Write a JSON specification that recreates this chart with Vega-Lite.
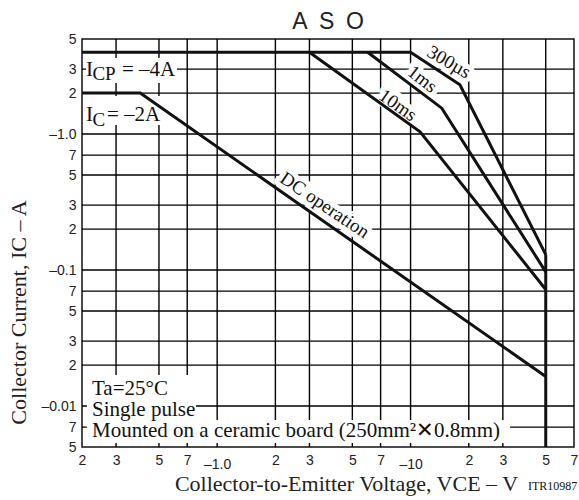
{
  "$schema": "https://vega.github.io/schema/vega-lite/v6.json",
  "width": 492,
  "height": 408,
  "autosize": {"type": "none"},
  "padding": {"left": 82, "top": 39, "right": 5, "bottom": 53},
  "background": "white",
  "config": {
    "view": {"stroke": "#111", "strokeWidth": 1.5},
    "axis": {"labelFont": "Liberation Sans", "labelFontSize": 14, "labelColor": "#222", "grid": false, "ticks": false, "domain": false, "labelOverlap": false, "labelFlush": false, "titleFont": "Liberation Serif", "titleFontWeight": "normal", "titleColor": "#222", "titleFontSize": 22}
  },
  "title": {"text": "A\u2002S\u2002O", "font": "Liberation Sans", "fontSize": 23, "fontWeight": "normal", "color": "#222", "offset": -2, "anchor": "middle"},
  "encoding": {
    "x": {
      "field": "x", "type": "quantitative",
      "scale": {"type": "log", "domain": [0.2, 70], "nice": false},
      "axis": {
        "values": [0.2, 0.3, 0.5, 0.7, 1, 2, 3, 5, 7, 10, 20, 30, 50, 70],
        "labelExpr": "datum.value==1 ? '–1.0' : datum.value==10 ? '–10' : datum.value<1 ? format(round(datum.value*10),'d') : datum.value<10 ? format(datum.value,'d') : format(round(datum.value/10),'d')",
        "labelPadding": {"condition": {"test": "datum.value==1 || datum.value==10", "value": 10}, "value": 6},
        "title": "Collector-to-Emitter Voltage, VCE – V",
        "titleX": 264, "titleY": 43, "titleBaseline": "alphabetic", "titleAlign": "center"
      }
    },
    "y": {
      "field": "y", "type": "quantitative",
      "scale": {"type": "log", "domain": [0.005, 5], "nice": false},
      "axis": {
        "values": [5, 3, 2, 1, 0.7, 0.5, 0.3, 0.2, 0.1, 0.07, 0.05, 0.03, 0.02, 0.01, 0.007, 0.005],
        "labelExpr": "datum.value==1 ? '–1.0' : datum.value==0.1 ? '–0.1' : datum.value==0.01 ? '–0.01' : format(round(datum.value/pow(10,floor(log(datum.value)/LN10))),'d')",
        "labelPadding": 6,
        "title": "Collector Current, IC – A",
        "titleX": -57, "titleY": 273, "titleBaseline": "alphabetic", "titleAlign": "center", "titleAngle": -90
      }
    }
  },
  "layer": [
    {
      "data": {"values": [
        {"g": "v0.3", "x": 0.3, "y": 0.005}, {"g": "v0.3", "x": 0.3, "y": 5},
        {"g": "v0.5", "x": 0.5, "y": 0.005}, {"g": "v0.5", "x": 0.5, "y": 5},
        {"g": "v0.7", "x": 0.7, "y": 0.005}, {"g": "v0.7", "x": 0.7, "y": 5},
        {"g": "v1", "x": 1, "y": 0.005}, {"g": "v1", "x": 1, "y": 5},
        {"g": "v2", "x": 2, "y": 0.005}, {"g": "v2", "x": 2, "y": 5},
        {"g": "v3", "x": 3, "y": 0.005}, {"g": "v3", "x": 3, "y": 5},
        {"g": "v5", "x": 5, "y": 0.005}, {"g": "v5", "x": 5, "y": 5},
        {"g": "v7", "x": 7, "y": 0.005}, {"g": "v7", "x": 7, "y": 5},
        {"g": "v10", "x": 10, "y": 0.005}, {"g": "v10", "x": 10, "y": 5},
        {"g": "v20", "x": 20, "y": 0.005}, {"g": "v20", "x": 20, "y": 5},
        {"g": "v30", "x": 30, "y": 0.005}, {"g": "v30", "x": 30, "y": 5},
        {"g": "v50", "x": 50, "y": 0.005}, {"g": "v50", "x": 50, "y": 5},
        {"g": "h3", "x": 0.2, "y": 3}, {"g": "h3", "x": 70, "y": 3},
        {"g": "h2", "x": 0.2, "y": 2}, {"g": "h2", "x": 70, "y": 2},
        {"g": "h1", "x": 0.2, "y": 1}, {"g": "h1", "x": 70, "y": 1},
        {"g": "h0.7", "x": 0.2, "y": 0.7}, {"g": "h0.7", "x": 70, "y": 0.7},
        {"g": "h0.5", "x": 0.2, "y": 0.5}, {"g": "h0.5", "x": 70, "y": 0.5},
        {"g": "h0.3", "x": 0.2, "y": 0.3}, {"g": "h0.3", "x": 70, "y": 0.3},
        {"g": "h0.2", "x": 0.2, "y": 0.2}, {"g": "h0.2", "x": 70, "y": 0.2},
        {"g": "h0.1", "x": 0.2, "y": 0.1}, {"g": "h0.1", "x": 70, "y": 0.1},
        {"g": "h0.07", "x": 0.2, "y": 0.07}, {"g": "h0.07", "x": 70, "y": 0.07},
        {"g": "h0.05", "x": 0.2, "y": 0.05}, {"g": "h0.05", "x": 70, "y": 0.05},
        {"g": "h0.03", "x": 0.2, "y": 0.03}, {"g": "h0.03", "x": 70, "y": 0.03},
        {"g": "h0.02", "x": 0.2, "y": 0.02}, {"g": "h0.02", "x": 70, "y": 0.02},
        {"g": "h0.01", "x": 0.2, "y": 0.01}, {"g": "h0.01", "x": 70, "y": 0.01},
        {"g": "h0.007", "x": 0.2, "y": 0.007}, {"g": "h0.007", "x": 70, "y": 0.007}
      ]},
      "mark": {"type": "line", "color": "#000000", "strokeWidth": 1.4, "opacity": 1},
      "encoding": {"detail": {"field": "g"}}
    },
    {
      "data": {"values": [
        {"x": 0.2097, "x2": 0.6196, "y": 3.626, "y2": 2.374},
        {"x": 0.2097, "x2": 0.5246, "y": 1.905, "y2": 1.165},
        {"x": 0.212, "x2": 0.777, "y": 0.01692, "y2": 0.0079},
        {"x": 0.212, "x2": 32.7, "y": 0.0079, "y2": 0.00535}
      ]},
      "mark": {"type": "rect", "color": "white"},
      "encoding": {"x2": {"field": "x2"}, "y2": {"field": "y2"}}
    },
    {
      "data": {"values": [{"x": 15.8, "y": 3.39, "label": "300µs"}]},
      "mark": {"type": "text", "font": "Liberation Serif", "fontSize": 19, "angle": 30, "color": "white", "stroke": "white", "strokeWidth": 10, "strokeJoin": "round"},
      "encoding": {"text": {"field": "label"}}
    },
    {
      "data": {"values": [{"x": 11.5, "y": 2.54, "label": "1ms"}]},
      "mark": {"type": "text", "font": "Liberation Serif", "fontSize": 19, "angle": 38, "color": "white", "stroke": "white", "strokeWidth": 10, "strokeJoin": "round"},
      "encoding": {"text": {"field": "label"}}
    },
    {
      "data": {"values": [{"x": 8.6, "y": 1.63, "label": "10ms"}]},
      "mark": {"type": "text", "font": "Liberation Serif", "fontSize": 19, "angle": 35, "color": "white", "stroke": "white", "strokeWidth": 10, "strokeJoin": "round"},
      "encoding": {"text": {"field": "label"}}
    },
    {
      "data": {"values": [{"x": 3.6, "y": 0.3, "label": "DC operation"}]},
      "mark": {"type": "text", "font": "Liberation Serif", "fontSize": 19, "angle": 34, "color": "white", "stroke": "white", "strokeWidth": 10, "strokeJoin": "round"},
      "encoding": {"text": {"field": "label"}}
    },
    {
      "data": {"values": [
        {"series": "300us", "x": 0.2, "y": 4},
        {"series": "300us", "x": 10, "y": 4},
        {"series": "300us", "x": 18, "y": 2.3},
        {"series": "300us", "x": 50, "y": 0.13},
        {"series": "1ms", "x": 6, "y": 4},
        {"series": "1ms", "x": 14.5, "y": 1.55},
        {"series": "1ms", "x": 50, "y": 0.097},
        {"series": "10ms", "x": 3, "y": 4},
        {"series": "10ms", "x": 11.2, "y": 1.04},
        {"series": "10ms", "x": 50, "y": 0.072},
        {"series": "DC", "x": 0.2, "y": 2},
        {"series": "DC", "x": 0.4, "y": 2},
        {"series": "DC", "x": 50, "y": 0.0165},
        {"series": "VCEO", "x": 50, "y": 0.13},
        {"series": "VCEO", "x": 50, "y": 0.005}
      ]},
      "mark": {"type": "line", "color": "#111", "strokeWidth": 3, "strokeJoin": "miter"},
      "encoding": {"detail": {"field": "series"}}
    },
    {
      "data": {"values": [{"x": 15.8, "y": 3.39, "label": "300µs"}]},
      "mark": {"type": "text", "font": "Liberation Serif", "fontSize": 19, "angle": 30, "color": "#111"},
      "encoding": {"text": {"field": "label"}}
    },
    {
      "data": {"values": [{"x": 11.5, "y": 2.54, "label": "1ms"}]},
      "mark": {"type": "text", "font": "Liberation Serif", "fontSize": 19, "angle": 38, "color": "#111"},
      "encoding": {"text": {"field": "label"}}
    },
    {
      "data": {"values": [{"x": 8.6, "y": 1.63, "label": "10ms"}]},
      "mark": {"type": "text", "font": "Liberation Serif", "fontSize": 19, "angle": 35, "color": "#111"},
      "encoding": {"text": {"field": "label"}}
    },
    {
      "data": {"values": [{"x": 3.6, "y": 0.3, "label": "DC operation"}]},
      "mark": {"type": "text", "font": "Liberation Serif", "fontSize": 19, "angle": 34, "color": "#111"},
      "encoding": {"text": {"field": "label"}}
    },
    {
      "data": {"values": [
        {"x": 0.2097, "y": 2.685, "label": "I"},
        {"x": 0.3221, "y": 2.685, "label": "= –4A"},
        {"x": 0.2097, "y": 1.254, "label": "I"},
        {"x": 0.2693, "y": 1.254, "label": "= –2A"},
        {"x": 0.2253, "y": 0.01206, "label": "Ta=25°C"},
        {"x": 0.2253, "y": 0.00845, "label": "Single pulse"},
        {"x": 0.2253, "y": 0.00589, "label": "Mounted on a ceramic board (250mm²✕0.8mm)"}
      ]},
      "mark": {"type": "text", "font": "Liberation Serif", "fontSize": 21, "align": "left", "baseline": "alphabetic", "color": "#111"},
      "encoding": {"text": {"field": "label"}}
    },
    {
      "data": {"values": [
        {"x": 0.2265, "y": 2.5, "label": "CP"},
        {"x": 0.2265, "y": 1.146, "label": "C"}
      ]},
      "mark": {"type": "text", "font": "Liberation Serif", "fontSize": 19, "align": "left", "baseline": "alphabetic", "color": "#111"},
      "encoding": {"text": {"field": "label"}}
    },
    {
      "data": {"values": [{"x": 40.5, "y": 0.00242, "label": "ITR10987"}]},
      "mark": {"type": "text", "font": "Liberation Serif", "fontSize": 12, "align": "left", "baseline": "alphabetic", "color": "#111"},
      "encoding": {"text": {"field": "label"}}
    }
  ]
}
